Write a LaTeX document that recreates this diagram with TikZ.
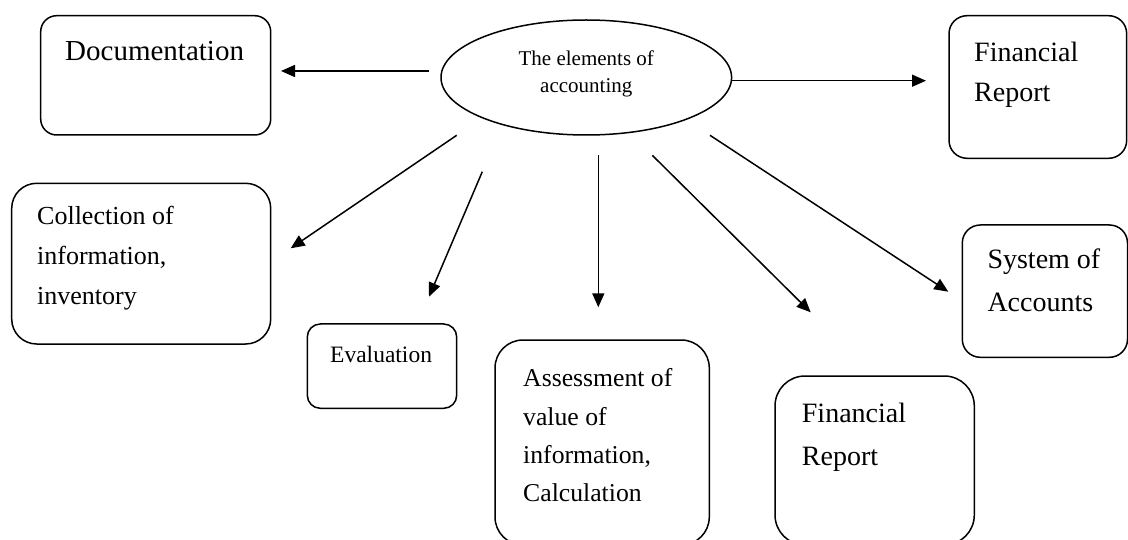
\documentclass[tikz,border=0pt]{standalone}
\usepackage{fontspec}
\setmainfont{Liberation Serif}
\usetikzlibrary{arrows.meta,shapes.geometric}
\tikzset{
  box/.style={draw, line width=1.5pt, rectangle, inner sep=0pt},
  lbl/.style={anchor=base west, inner sep=0pt, align=left},
  conn/.style={line width=1.5pt, -{Triangle[length=14pt,width=12pt]}},
}
\newcommand\fs[2]{\fontsize{#1}{#2}\selectfont}
\begin{document}
\begin{tikzpicture}[x=1pt,y=-1pt]
\useasboundingbox (0,0) rectangle (1128,540);
% central ellipse
\node[draw, ellipse, line width=1.5pt, inner sep=0pt, minimum width=290.6pt, minimum height=115pt] (el) at (586.3,77.5) {};
\node[anchor=base, inner sep=0pt, align=center, font=\fs{21}{27}] (eltxt) at (586.3,93) {The elements of\\accounting};
% boxes
\node[box, rounded corners=16pt, minimum width=230pt, minimum height=119.3pt] (doc) at (155.7,75.35) {};
\node[box, rounded corners=18pt, minimum width=177.7pt, minimum height=142.6pt] (fintop) at (1037.85,87) {};
\node[box, rounded corners=25pt, minimum width=259pt, minimum height=160.7pt] (coll) at (141.2,263.65) {};
\node[box, rounded corners=13pt, minimum width=149.4pt, minimum height=84.3pt] (eval) at (382,366.15) {};
\node[box, rounded corners=28pt, minimum width=214.3pt, minimum height=205pt] (assess) at (602.15,442.5) {};
\node[box, rounded corners=30pt, minimum width=199.3pt, minimum height=169pt] (finbot) at (874.65,460.5) {};
\node[box, rounded corners=18pt, minimum width=165.2pt, minimum height=132.3pt] (sys) at (1044.9,291.15) {};
% texts (base anchor = baseline of the last line)
\node[lbl, font=\fs{29}{40}] (doctxt) at (65,61) {Documentation};
\node[lbl, font=\fs{28}{40}] (fintoptxt) at (974,101.7) {Financial\\Report};
\node[lbl, font=\fs{26}{40}] (colltxt) at (37,305) {Collection of\\information,\\inventory};
\node[lbl, font=\fs{23.5}{30}] (evaltxt) at (330,362.7) {Evaluation};
\node[lbl, font=\fs{25.7}{38.3}] (assesstxt) at (523,501.7) {Assessment of\\value of\\information,\\Calculation};
\node[lbl, font=\fs{28}{43}] (finbottxt) at (801.7,465) {Financial\\Report};
\node[lbl, font=\fs{28}{43}] (systxt) at (987.3,311.7) {System of\\Accounts};
% connector end points
\coordinate (s1) at (429,71);     \coordinate (e1) at (281,71);
\coordinate (s2) at (732,80.7);   \coordinate (e2) at (926,80.7);
\coordinate (s3) at (456.7,135.3);\coordinate (e3) at (290.7,248.3);
\coordinate (s4) at (482.3,171.7);\coordinate (e4) at (429,296.7);
\coordinate (s5) at (598.3,155.3);\coordinate (e5) at (598.3,307.3);
\coordinate (s6) at (652.3,155.3);\coordinate (e6) at (810.7,312.3);
\coordinate (s7) at (710,135.3);  \coordinate (e7) at (948.3,291.7);
\draw[conn] (s1) -- (e1);
\draw[conn] (s2) -- (e2);
\draw[conn] (s3) -- (e3);
\draw[conn] (s4) -- (e4);
\draw[conn] (s5) -- (e5);
\draw[conn] (s6) -- (e6);
\draw[conn] (s7) -- (e7);
\end{tikzpicture}
\end{document}
